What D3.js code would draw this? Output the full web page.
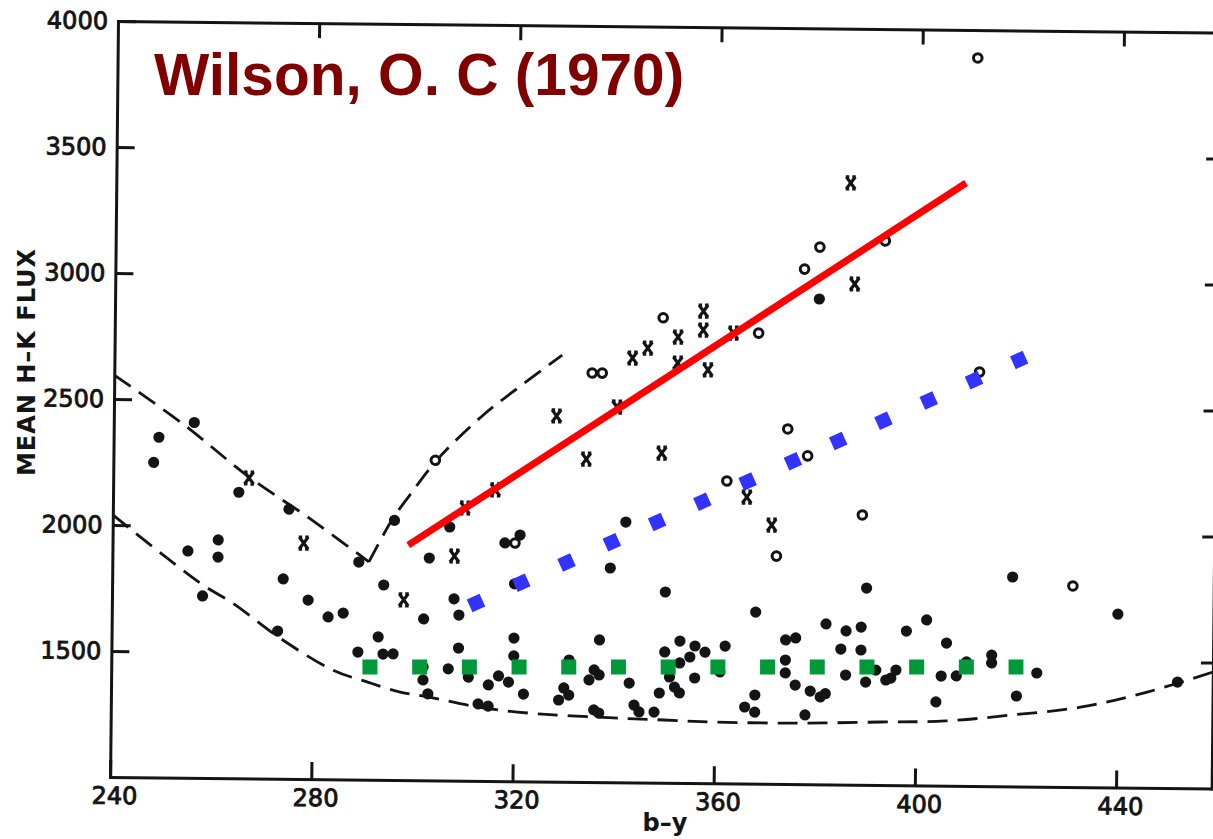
<!DOCTYPE html>
<html><head><meta charset="utf-8">
<script src="https://cdn.jsdelivr.net/npm/d3@7"></script>
<style>
html,body{margin:0;padding:0;background:#fff;}
svg{display:block;}
</style></head><body>
<svg id="chart" width="1213" height="839"></svg>
<script>
// ---------------- data ----------------
const xTicks = [240, 280, 320, 360, 400, 440];
const yTicks = [1500, 2000, 2500, 3000, 3500, 4000];
const topTicks = [280, 320, 360, 400, 440];
const rightTicks = [1500, 2000, 2500, 3000, 3500];
const titleText = "Wilson, O. C (1970)";
const xLabel = "b–y";
const yLabel = "MEAN H–K FLUX";

// filled dots [b-y, flux]
const filledDots = [
  [248,2250],[249,2350],[256,2410],[265,2135],[275,2070],[296,2030],[255,1900],[261,1945],
  [261,1877],[289,1863],[274,1793],[258,1722],[279,1710],[283,1644],[286,1660],[294,1773],
  [273,1586],[289,1506],[293,1567],[294,1499],[296,1500],[307,2006],[303,1882],[318,1945],
  [321,1977],[308,1721],[309,1657],[302,1640],[320,1783],[339,1850],[350,1757],[342,2033],
  [368,1681],[302,1450],[302,1398],[303,1343],[309,1526],[307,1443],[311,1411],[320,1568],
  [320,1497],[317,1417],[315,1381],[319,1393],[322,1346],[313,1305],[315,1297],[331,1483],
  [330,1372],[329,1324],[331,1344],[337,1564],[336,1445],[335,1405],[337,1425],[336,1286],
  [337,1274],[343,1394],[353,1563],[350,1519],[351,1420],[353,1476],[355,1500],[356,1544],
  [358,1520],[352,1380],[353,1357],[349,1356],[356,1417],[344,1307],[345,1280],[348,1280],
  [362,1545],[361,1442],[368,1352],[366,1304],[368,1284],[374,1572],[376,1580],[374,1492],
  [374,1441],[376,1393],[379,1370],[381,1347],[382,1360],[378,1275],[382,1637],[386,1610],
  [389,1626],[385,1538],[389,1535],[386,1435],[390,1408],[392,1456],[394,1417],[395,1425],
  [396,1457],[390,1781],[398,1612],[402,1657],[406,1566],[405,1435],[408,1436],[410,1492],
  [404,1332],[415,1520],[415,1489],[420,1470],[420,1359],[424,1451],[419,1831],[440,1688],
  [452,1421],[380,2926]
];
// open circles
const openCircles = [
  [304,2270],[335,2623],[337,2623],[349,2845],[368,2788],[362,2200],[372,1904],[374,2409],
  [378,2303],[377,3044],[380,3132],[393,3159],[389,2071],[412,2643],[411,3889],[431,1798],
  [320,1945]
];
// crosses
const crossMarks = [
  [267,2192],[278,1936],[298,1715],[308,1891],[310,2082],[316,2155],[328,2451],[334,2281],
  [340,2489],[343,2684],[346,2724],[349,2308],[352,2769],[352,2666],[357,2873],[357,2798],
  [358,2640],[363,2787],[366,2137],[371,2027],[387,2987],[386,3388]
];
// dashed envelope curves
const upperLeft = [[240,2595],[254,2400],[267,2196],[279,2036],[291,1864]];
const upperRight = [[291,1864],[295.5,2031],[299,2131],[304.3,2271],[313,2444],[321,2572],[329,2693]];
const lowerCurve = [[240,2040],[257.5,1773],[264,1695],[273.5,1558],[284,1434],[291,1387],
  [297.5,1349],[303,1331],[313,1293],[323,1271],[340,1255],[350,1249],[360,1243],[376.5,1242],
  [393,1250],[406,1257],[419,1283],[433,1318],[446,1380],[459,1462]];
// overlaid trend lines
const redTrend = [[297.7,1920],[408.6,3357]];
const blueTrend = [[309.9,1679],[420.4,2666]];
const greenTrend = [[288.6,1436.5],[420.0,1436.5]];

// ---------------- drawing ----------------
const svg = d3.select("#chart");
const plotW = 1101.6, plotH = 756;
const x = d3.scaleLinear().domain([240,459]).range([0,plotW]);
const y = d3.scaleLinear().domain([1000,4000]).range([plotH,0]);

const g = svg.append("g").attr("transform","translate(118,21) rotate(0.6)");
const ink = "#141414";

function styleAxis(sel){
  sel.select(".domain").attr("stroke",ink).attr("stroke-width",3).attr("stroke-linecap","square");
  sel.selectAll(".tick line").attr("stroke",ink).attr("stroke-width",3);
  sel.selectAll(".tick text").attr("font-family","DejaVu Sans").attr("font-size",24)
     .attr("fill",ink).attr("stroke",ink).attr("stroke-width",0.9);
}
g.append("g").attr("transform",`translate(0,${plotH})`)
  .call(d3.axisBottom(x).tickValues(xTicks).tickSize(-17).tickSizeOuter(0).tickPadding(10).tickFormat(d3.format("d")))
  .call(styleAxis).call(s=>s.selectAll(".tick text").attr("dx",4));
g.append("g")
  .call(d3.axisLeft(y).tickValues(yTicks).tickSize(-18).tickSizeOuter(0).tickPadding(10).tickFormat(d3.format("d")))
  .call(styleAxis);
g.append("g")
  .call(d3.axisTop(x).tickValues(topTicks).tickSize(-15).tickSizeOuter(0).tickFormat(""))
  .call(styleAxis);
g.append("g").attr("transform",`translate(${plotW},0)`)
  .call(d3.axisRight(y).tickValues(rightTicks).tickSize(-12).tickSizeOuter(0).tickFormat(""))
  .call(styleAxis);

const curveLine = d3.line().x(d=>x(d[0])).y(d=>y(d[1])).curve(d3.curveCatmullRom);
[upperLeft, upperRight, lowerCurve].forEach(c=>{
  g.append("path").attr("d",curveLine(c)).attr("fill","none").attr("stroke",ink)
   .attr("stroke-width",2.8).attr("stroke-dasharray","20,10");
});

g.append("g").selectAll("circle").data(filledDots).join("circle")
  .attr("cx",d=>x(d[0])).attr("cy",d=>y(d[1])).attr("r",5.6).attr("fill",ink);
g.append("g").selectAll("circle").data(openCircles).join("circle")
  .attr("cx",d=>x(d[0])).attr("cy",d=>y(d[1])).attr("r",4.3).attr("fill","#fff")
  .attr("stroke",ink).attr("stroke-width",3);
g.append("g").selectAll("path").data(crossMarks).join("path")
  .attr("transform",d=>`translate(${x(d[0])},${y(d[1])})`)
  .attr("d","M-4.5,-6L4.5,6M4.5,-6L-4.5,6M-5,-6H-1.5M1.5,-6H5M-5,6H-1.5M1.5,6H5")
  .attr("stroke",ink).attr("stroke-width",3.2);

// axis titles
svg.append("text").attr("transform","translate(35,362) rotate(-90)")
  .attr("text-anchor","middle").attr("font-family","DejaVu Sans").attr("font-weight","bold")
  .attr("font-size",24).attr("letter-spacing",1).attr("fill",ink).text(yLabel);
svg.append("text").attr("x",665).attr("y",831).attr("text-anchor","middle")
  .attr("font-family","DejaVu Sans").attr("font-weight","bold").attr("font-size",24)
  .attr("fill",ink).text(xLabel);

// overlays (not rotated)
const xo = d3.scaleLinear().domain([240,459]).range([118,118+plotW]);
const yo = d3.scaleLinear().domain([1000,4000]).range([21+plotH,21]);
const oLine = d3.line().x(d=>xo(d[0])).y(d=>yo(d[1]));
svg.append("path").attr("d",oLine(redTrend)).attr("fill","none").attr("stroke","#ff0000").attr("stroke-width",7);
svg.append("path").attr("d",oLine(blueTrend)).attr("fill","none").attr("stroke","#3333ff")
  .attr("stroke-width",14).attr("stroke-dasharray","14,35.6");
svg.append("path").attr("d",oLine(greenTrend)).attr("fill","none").attr("stroke","#00993a")
  .attr("stroke-width",15).attr("stroke-dasharray","15,34.7");

svg.append("text").attr("x",154).attr("y",95)
  .attr("font-family","'Liberation Sans', Arial, sans-serif").attr("font-weight","bold")
  .attr("font-size",58.6).attr("fill","#800000").text(titleText);
</script>
</body></html>
